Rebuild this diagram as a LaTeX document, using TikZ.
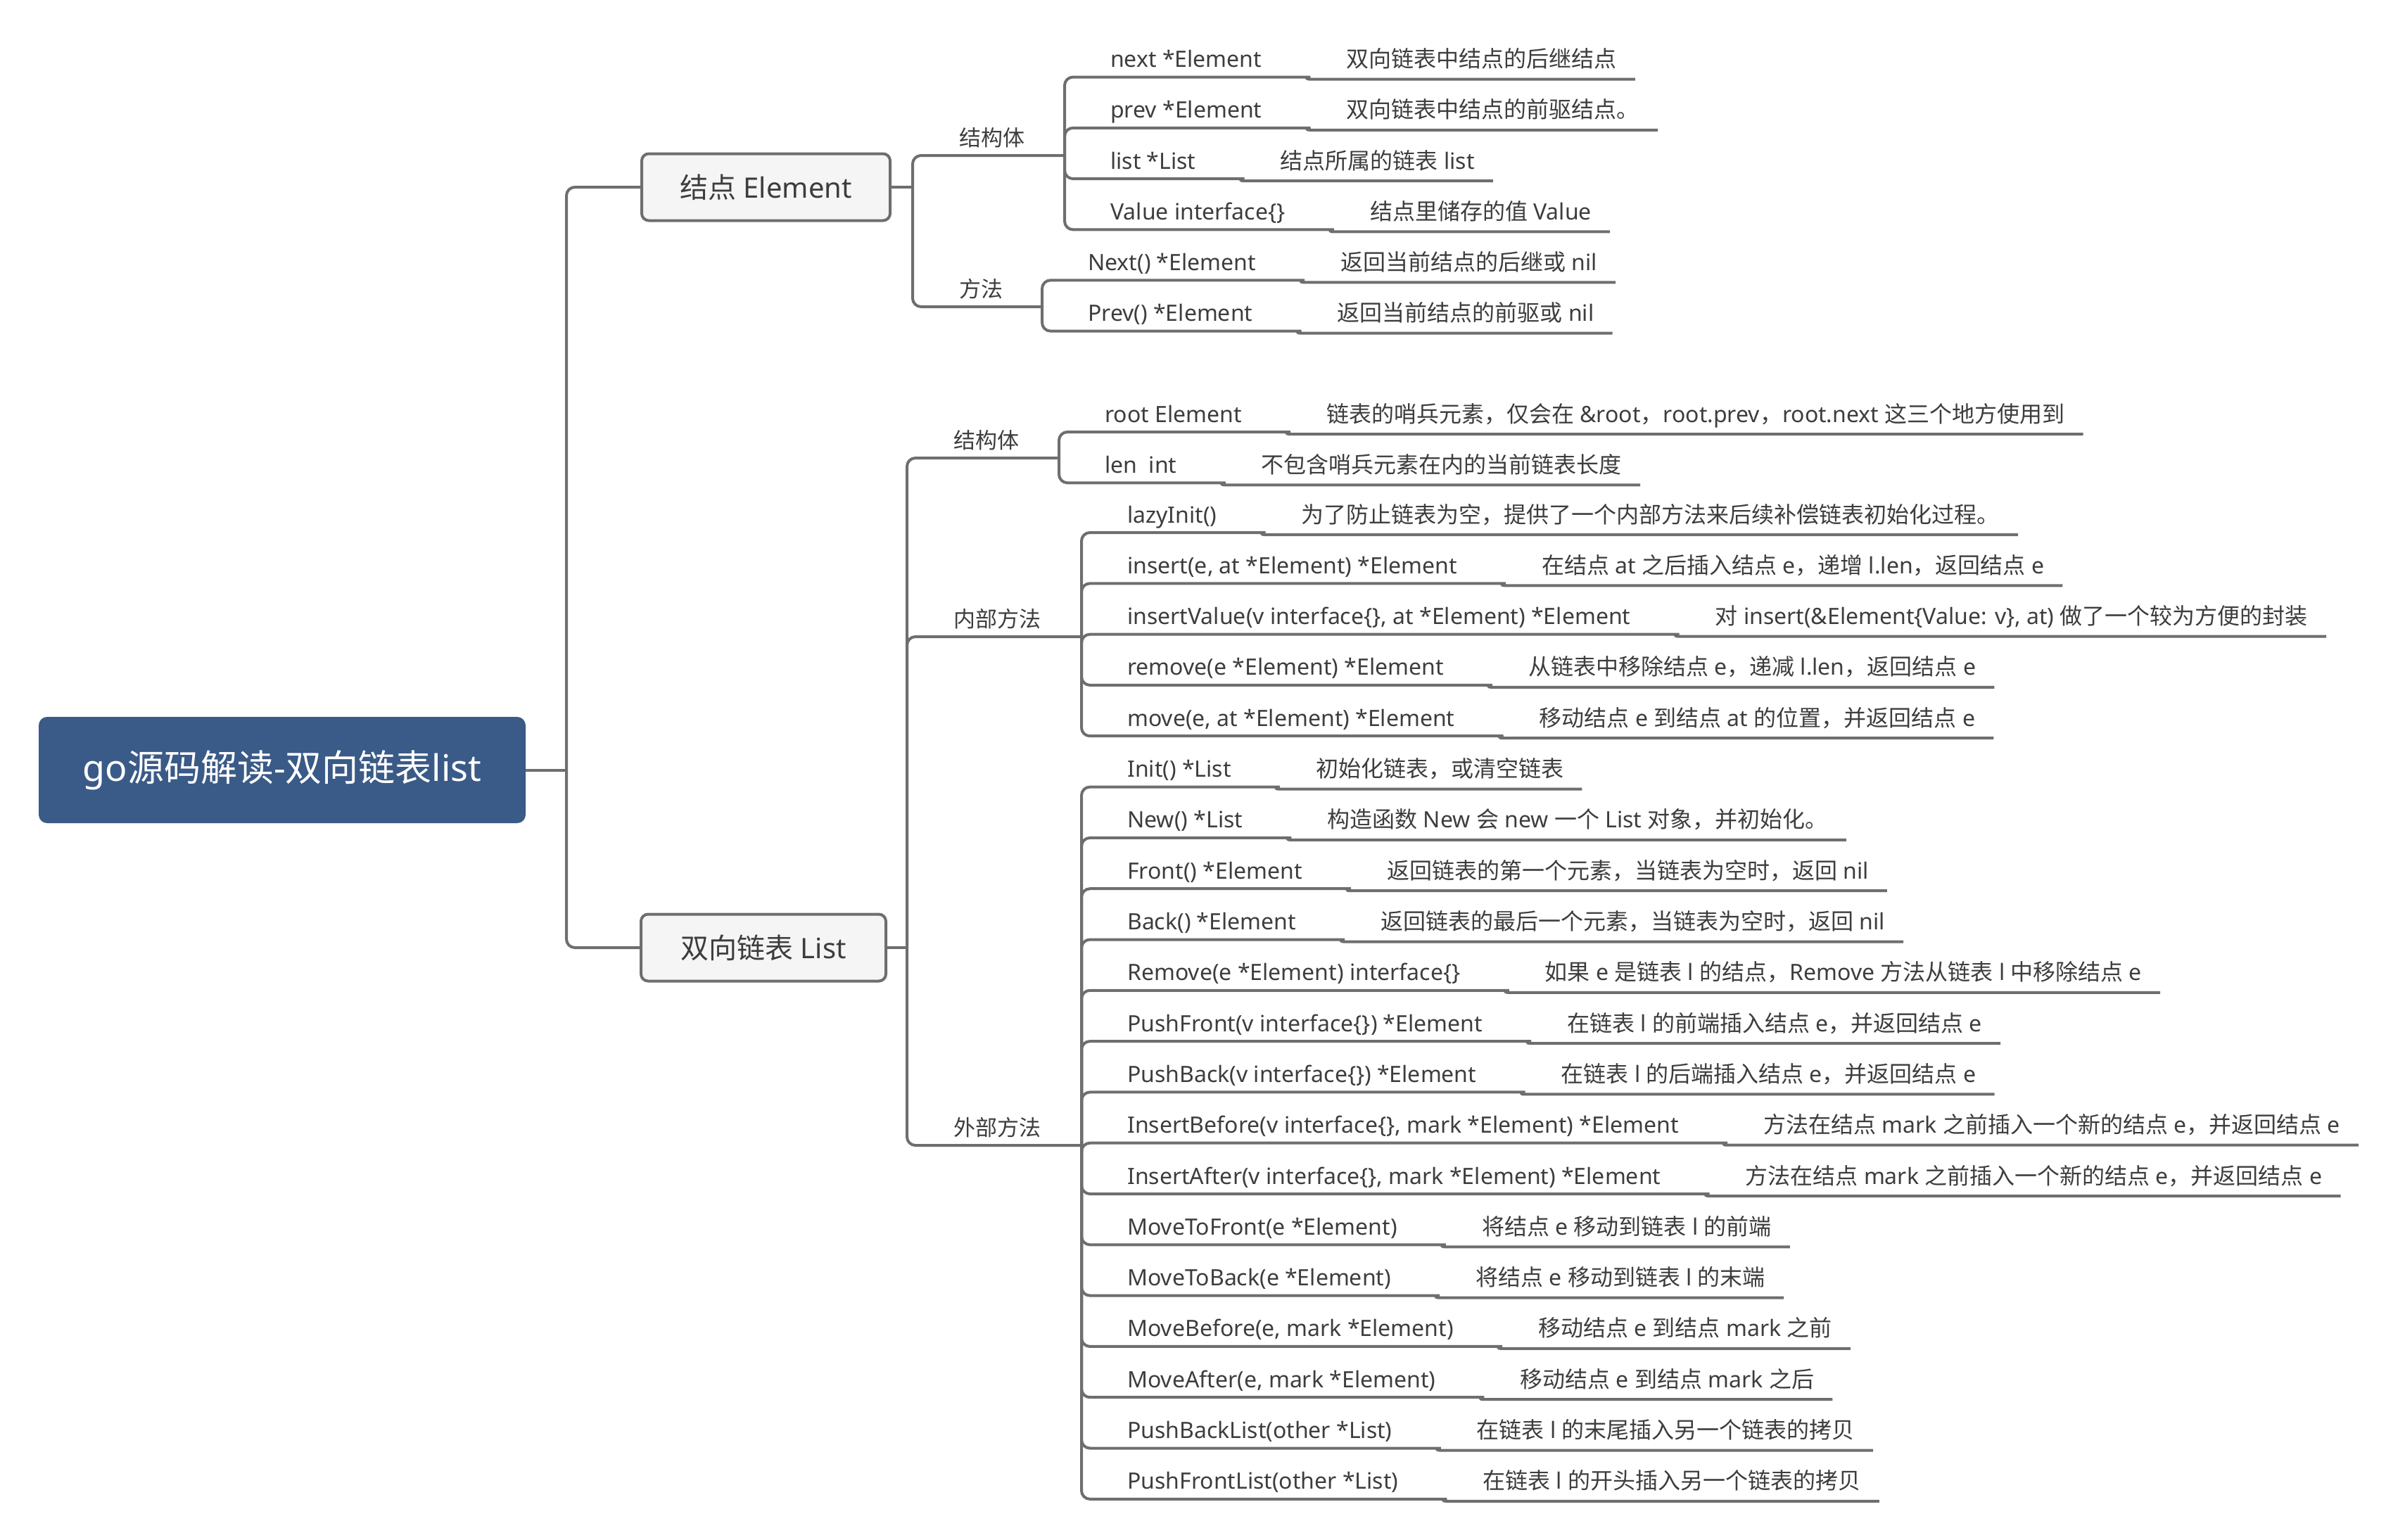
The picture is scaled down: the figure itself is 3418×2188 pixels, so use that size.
\documentclass[tikz,border=0pt]{standalone}
\usepackage{fontspec}
\setmainfont{Noto Sans}
\newfontfamily\cjkfont{Noto Sans CJK SC}
\usetikzlibrary{positioning,calc}

% switch to the CJK font for Chinese characters
\XeTeXinterchartokenstate=1
\newXeTeXintercharclass\cjkclass
\count255="3000
\loop\XeTeXcharclass\count255=\cjkclass
  \ifnum\count255<"9FFF \advance\count255 by 1 \repeat
\count255="FF00
\loop\XeTeXcharclass\count255=\cjkclass
  \ifnum\count255<"FFEF \advance\count255 by 1 \repeat
\XeTeXinterchartoks 0 \cjkclass = {\cjkfont}
\XeTeXinterchartoks 4095 \cjkclass = {\cjkfont}
\XeTeXinterchartoks \cjkclass 0 = {\rmfamily}
\XeTeXinterchartoks \cjkclass 4095 = {\rmfamily}

\definecolor{linegray}{HTML}{6E6E6E}
\definecolor{rootblue}{HTML}{3A5A87}
\definecolor{boxfill}{HTML}{F5F5F5}
\definecolor{textgray}{HTML}{3D3D3D}

\tikzset{
  rootbox/.style={rectangle, rounded corners=12pt, fill=rootblue, text=white,
    font=\fontsize{52}{62}\selectfont, minimum width=692pt, minimum height=151pt},
  topicbox/.style={rectangle, rounded corners=10pt, draw=linegray, line width=4pt,
    fill=boxfill, text=textgray, font=\fontsize{40}{48}\selectfont, minimum height=95pt},
  grouplabel/.style={anchor=base west, inner sep=0pt, text=textgray,
    font=\fontsize{31}{37}\selectfont},
  leafkey/.style={anchor=base west, inner sep=0pt, text=textgray,
    font=\fontsize{32}{38}\selectfont},
  leafnote/.style={leafkey},
  conn/.style={draw=linegray, line width=4pt, rounded corners=12pt}
}

% one leaf: name, bracket x, junction y, underline y, key, note
\newcommand{\mapleaf}[6]{%
  \node[leafkey] (#1) at (#2+65,#4-14) {#5};
  \node[leafnote, base right=120pt of #1] (#1n) {#6};
  \draw[conn] (#2,#3) |- ($(#1.base east)+(57,14)$) [sharp corners]
    to[out=0,in=180] ++(10,3) -- ($(#1n.base east)+(26,17)$);
}

\begin{document}
\begin{tikzpicture}[x=1pt,y=-1pt]
  \useasboundingbox (0,0) rectangle (3418,2188);

  \node[rootbox] (root) at (401,1094.5) {go源码解读-双向链表list};
  \node[topicbox, minimum width=353pt] (elem) at (1088.5,266) {结点 Element};
  \node[topicbox, minimum width=348pt] (list) at (1085,1347) {双向链表 List};

  \coordinate (trunk) at (805,1094.5);
  \draw[conn] (root.east) -- (trunk);
  \draw[conn] (elem.west) -| (trunk) |- (list.west);

  % 结点 Element
  \coordinate (ejunc) at (1297,266);
  \draw[conn] (elem.east) -- (ejunc);
  \draw[conn] (ejunc) |- (1513,221);
  \draw[conn] (ejunc) |- (1481,436);
  \node[grouplabel] (es) at (1363,207) {结构体};
  \node[grouplabel] (em) at (1363,422) {方法};

  \foreach \kk/\nn [count=\i from 0] in {
      {next *Element}/{双向链表中结点的后继结点},
      {prev *Element}/{双向链表中结点的前驱结点。},
      {list *List}/{结点所属的链表 list},
      {Value interface\{\}}/{结点里储存的值 Value}}
    {\mapleaf{es\i}{1513}{221}{109.5+72.3*\i}{\kk}{\nn}}

  \foreach \kk/\nn [count=\i from 0] in {
      {Next() *Element}/{返回当前结点的后继或 nil},
      {Prev() *Element}/{返回当前结点的前驱或 nil}}
    {\mapleaf{em\i}{1481}{436}{398.3+72.3*\i}{\kk}{\nn}}

  % 双向链表 List
  \coordinate (ljunc) at (1289,1347);
  \draw[conn] (list.east) -- (ljunc);
  \draw[conn] (ljunc) |- (1505,651);
  \draw[conn] (ljunc) |- (1537,905);
  \draw[conn] (ljunc) |- (1537,1628);
  \node[grouplabel] (ls) at (1355,637) {结构体};
  \node[grouplabel] (li) at (1355,891) {内部方法};
  \node[grouplabel] (lo) at (1355,1614) {外部方法};

  \foreach \kk/\nn [count=\i from 0] in {
      {root Element}/{链表的哨兵元素，仅会在 \&root，root.prev，root.next 这三个地方使用到},
      {len\ \ int}/{不包含哨兵元素在内的当前链表长度}}
    {\mapleaf{ls\i}{1505}{651}{614+72.3*\i}{\kk}{\nn}}

  \foreach \kk/\nn [count=\i from 0] in {
      {lazyInit()}/{为了防止链表为空，提供了一个内部方法来后续补偿链表初始化过程。},
      {insert(e, at *Element) *Element}/{在结点 at 之后插入结点 e，递增 l.len，返回结点 e},
      {insertValue(v interface\{\}, at *Element) *Element}/{对 insert(\&Element\{Value: v\}, at) 做了一个较为方便的封装},
      {remove(e *Element) *Element}/{从链表中移除结点 e，递减 l.len，返回结点 e},
      {move(e, at *Element) *Element}/{移动结点 e 到结点 at 的位置，并返回结点 e}}
    {\mapleaf{li\i}{1537}{905}{757+72.3*\i}{\kk}{\nn}}

  \foreach \kk/\nn [count=\i from 0] in {
      {Init() *List}/{初始化链表，或清空链表},
      {New() *List}/{构造函数 New 会 new 一个 List 对象，并初始化。},
      {Front() *Element}/{返回链表的第一个元素，当链表为空时，返回 nil},
      {Back() *Element}/{返回链表的最后一个元素，当链表为空时，返回 nil},
      {Remove(e *Element) interface\{\}}/{如果 e 是链表 l 的结点，Remove 方法从链表 l 中移除结点 e},
      {PushFront(v interface\{\}) *Element}/{在链表 l 的前端插入结点 e，并返回结点 e},
      {PushBack(v interface\{\}) *Element}/{在链表 l 的后端插入结点 e，并返回结点 e},
      {InsertBefore(v interface\{\}, mark *Element) *Element}/{方法在结点 mark 之前插入一个新的结点 e，并返回结点 e},
      {InsertAfter(v interface\{\}, mark *Element) *Element}/{方法在结点 mark 之前插入一个新的结点 e，并返回结点 e},
      {MoveToFront(e *Element)}/{将结点 e 移动到链表 l 的前端},
      {MoveToBack(e *Element)}/{将结点 e 移动到链表 l 的末端},
      {MoveBefore(e, mark *Element)}/{移动结点 e 到结点 mark 之前},
      {MoveAfter(e, mark *Element)}/{移动结点 e 到结点 mark 之后},
      {PushBackList(other *List)}/{在链表 l 的末尾插入另一个链表的拷贝},
      {PushFrontList(other *List)}/{在链表 l 的开头插入另一个链表的拷贝}}
    {\mapleaf{lo\i}{1537}{1628}{1118.6+72.3*\i}{\kk}{\nn}}
\end{tikzpicture}
\end{document}
